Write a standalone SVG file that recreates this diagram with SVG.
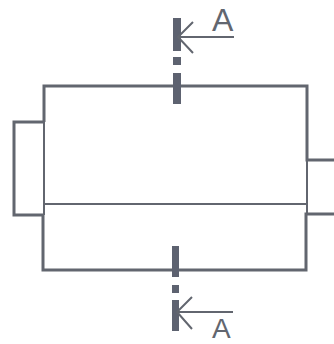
<svg xmlns="http://www.w3.org/2000/svg" width="334" height="344" viewBox="0 0 334 344">
<style>
.l{fill:none;stroke:#62666f;stroke-width:3;stroke-linejoin:miter}
.t{fill:none;stroke:#62666f;stroke-width:2}
.b{fill:#5d6270}
.a{fill:none;stroke:#62666f;stroke-width:2}
text{font-family:"Liberation Sans",Arial,sans-serif;fill:#62666f}
</style>
<rect width="334" height="344" fill="#fff"/>
<g id="connectors">
<path class="l" d="M44 122V86H307V160H334"/>
<path class="l" d="M44 122H14V215H44"/>
<path class="t" d="M44 122V215"/>
<path class="t" d="M307 160V214"/>
<path class="l" d="M334 214H306V270H43V215"/>
<path class="t" d="M45 204H306"/>
</g>
<g id="section-top">
<rect class="b" x="173" y="18" width="8" height="33"/>
<rect class="b" x="173" y="57" width="8" height="8"/>
<rect class="b" x="173" y="73" width="8" height="31"/>
<path class="a" d="M234 37H180M193 22L178 37L193 53"/>
<text x="212" y="31" font-size="32">A</text>
</g>
<g id="section-bottom">
<rect class="b" x="172" y="246" width="7" height="31"/>
<rect class="b" x="172" y="285" width="7" height="8"/>
<rect class="b" x="172" y="300" width="7" height="31"/>
<path class="a" d="M233 312H179M192 297L177 312L192 329"/>
<text x="212" y="338" font-size="28">A</text>
</g>
</svg>
